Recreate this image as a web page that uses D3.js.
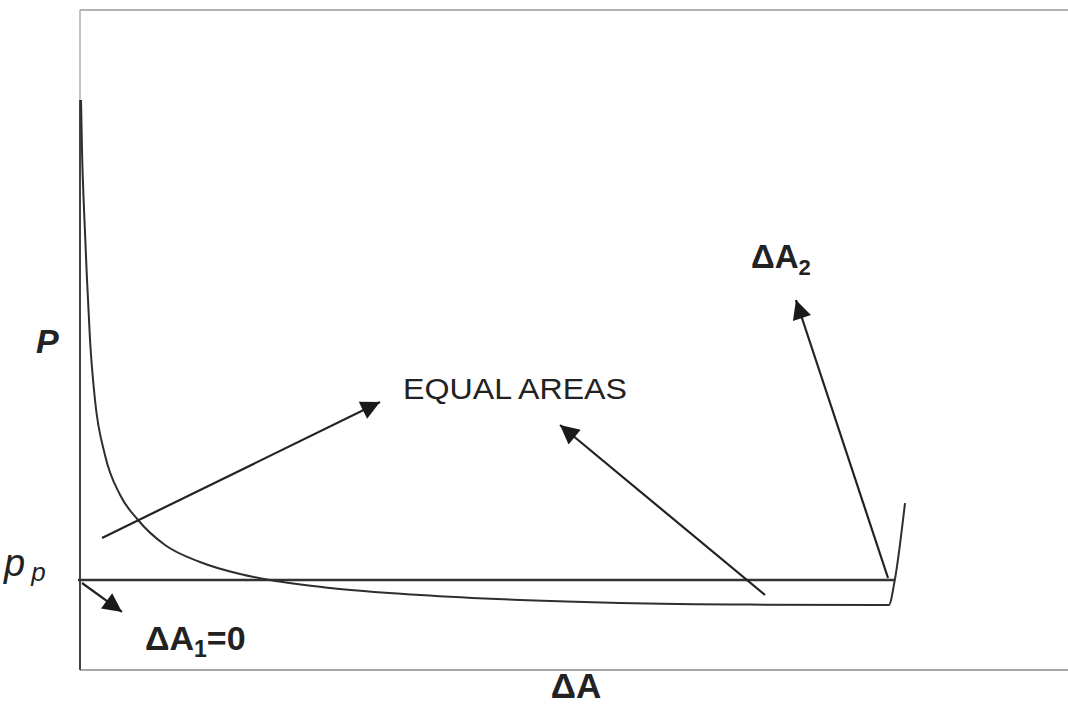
<!DOCTYPE html>
<html>
<head>
<meta charset="utf-8">
<script src="https://cdn.jsdelivr.net/npm/d3@7"></script>
<style>
  html, body { margin: 0; padding: 0; background: #fff; }
  svg { display: block; font-family: "Liberation Sans", Arial, sans-serif; }
</style>
</head>
<body>
<div id="chart"></div>
<script>
// pressure vs. area change, arbitrary units (pp = 0)
const curveDA = [0.017, 0.033, 0.067, 0.117, 0.167, 0.25, 0.417, 0.667, 0.967, 1.417, 2.0, 2.667, 3.167, 4.167, 5.667, 7.333, 9.0, 11.17, 13.48, 13.58, 13.75];
const curveP  = [8.0, 7.17, 6.17, 5.0, 4.0, 3.0, 2.08, 1.42, 1.0, 0.583, 0.3, 0.1, 0.0, -0.133, -0.25, -0.333, -0.383, -0.41, -0.417, 0.0, 1.283];

const ppLevel = 0;
const ppEnd = 13.58;

// arrows: [fromDA, fromP, toDA, toP]
const arrows = [
    [0.367, 0.70, 5.0, 2.967],
    [11.417, -0.25, 8.0, 2.583],
    [13.467, 0.033, 11.933, 4.667],
    [0.033, -0.05, 0.70, -0.533]
];

const width = 1068, height = 706;
const margin = { top: 10, right: 0, bottom: 36, left: 80 };

const svg = d3.select("#chart").append("svg")
    .attr("width", width)
    .attr("height", height);

const x = d3.scaleLinear().domain([0, 16.5]).range([margin.left, margin.left + 990]);
const y = d3.scaleLinear().domain([-1.5, 9.5]).range([height - margin.bottom, margin.top]);

svg.append("defs").append("marker")
    .attr("id", "head")
    .attr("viewBox", "0 0 10 10")
    .attr("refX", 10)
    .attr("refY", 5)
    .attr("markerUnits", "userSpaceOnUse")
    .attr("markerWidth", 24)
    .attr("markerHeight", 19)
    .attr("orient", "auto")
    .append("path")
    .attr("d", "M0,0 L10,5 L0,10 Z")
    .attr("fill", "#1a1a1a");

// frame
svg.append("line")
    .attr("x1", x(0)).attr("x2", width)
    .attr("y1", y(9.5)).attr("y2", y(9.5))
    .attr("stroke", "#9a9a9a").attr("stroke-width", 1.5);
svg.append("line")
    .attr("x1", x(0)).attr("x2", width)
    .attr("y1", y(-1.5)).attr("y2", y(-1.5))
    .attr("stroke", "#8a8a8a").attr("stroke-width", 1.5);
svg.append("line")
    .attr("x1", x(0)).attr("x2", x(0))
    .attr("y1", y(9.5)).attr("y2", y(8))
    .attr("stroke", "#9a9a9a").attr("stroke-width", 1.2);
svg.append("line")
    .attr("x1", x(0)).attr("x2", x(0))
    .attr("y1", y(8)).attr("y2", y(-1.5))
    .attr("stroke", "#444").attr("stroke-width", 2);

// pp line
svg.append("line")
    .attr("x1", x(0) - 2).attr("x2", x(ppEnd))
    .attr("y1", y(ppLevel)).attr("y2", y(ppLevel))
    .attr("stroke", "#333").attr("stroke-width", 2.5);

// curve
const pts = curveDA.map((d, i) => [d, curveP[i]]);
svg.append("path")
    .datum(pts)
    .attr("fill", "none")
    .attr("stroke", "#2e2e2e")
    .attr("stroke-width", 2)
    .attr("d", d3.line().x(d => x(d[0])).y(d => y(d[1])).curve(d3.curveMonotoneX));

// arrows
svg.selectAll(".arrow")
    .data(arrows)
    .join("line")
    .attr("class", "arrow")
    .attr("x1", d => x(d[0])).attr("y1", d => y(d[1]))
    .attr("x2", d => x(d[2])).attr("y2", d => y(d[3]))
    .attr("stroke", "#222")
    .attr("stroke-width", 2.2)
    .attr("marker-end", "url(#head)");

// labels
svg.append("text")
    .attr("x", 36).attr("y", 353)
    .attr("font-size", 34).attr("font-weight", "bold").attr("font-style", "italic")
    .attr("fill", "#222")
    .text("P");

const pp = svg.append("text")
    .attr("x", 4).attr("y", 576)
    .attr("font-size", 38).attr("font-style", "italic")
    .attr("fill", "#222");
pp.append("tspan").text("p");
pp.append("tspan").attr("dx", 6).attr("dy", 5).attr("font-size", 26).text("p");

svg.append("text")
    .attr("x", 403).attr("y", 399)
    .attr("font-size", 29)
    .attr("textLength", 224)
    .attr("lengthAdjust", "spacingAndGlyphs")
    .attr("fill", "#222")
    .text("EQUAL AREAS");

const da1 = svg.append("text")
    .attr("x", 145).attr("y", 650)
    .attr("font-size", 34).attr("font-weight", "bold")
    .attr("fill", "#222");
da1.append("tspan").text("ΔA");
da1.append("tspan").attr("dy", 7).attr("font-size", 23).text("1");
da1.append("tspan").attr("dy", -7).text("=0");

const da2 = svg.append("text")
    .attr("x", 751).attr("y", 268)
    .attr("font-size", 33).attr("font-weight", "bold")
    .attr("fill", "#222");
da2.append("tspan").text("ΔA");
da2.append("tspan").attr("dy", 7).attr("font-size", 22).text("2");

svg.append("text")
    .attr("x", 576).attr("y", 698)
    .attr("text-anchor", "middle")
    .attr("font-size", 35).attr("font-weight", "bold")
    .attr("fill", "#222")
    .text("ΔA");
</script>
</body>
</html>
